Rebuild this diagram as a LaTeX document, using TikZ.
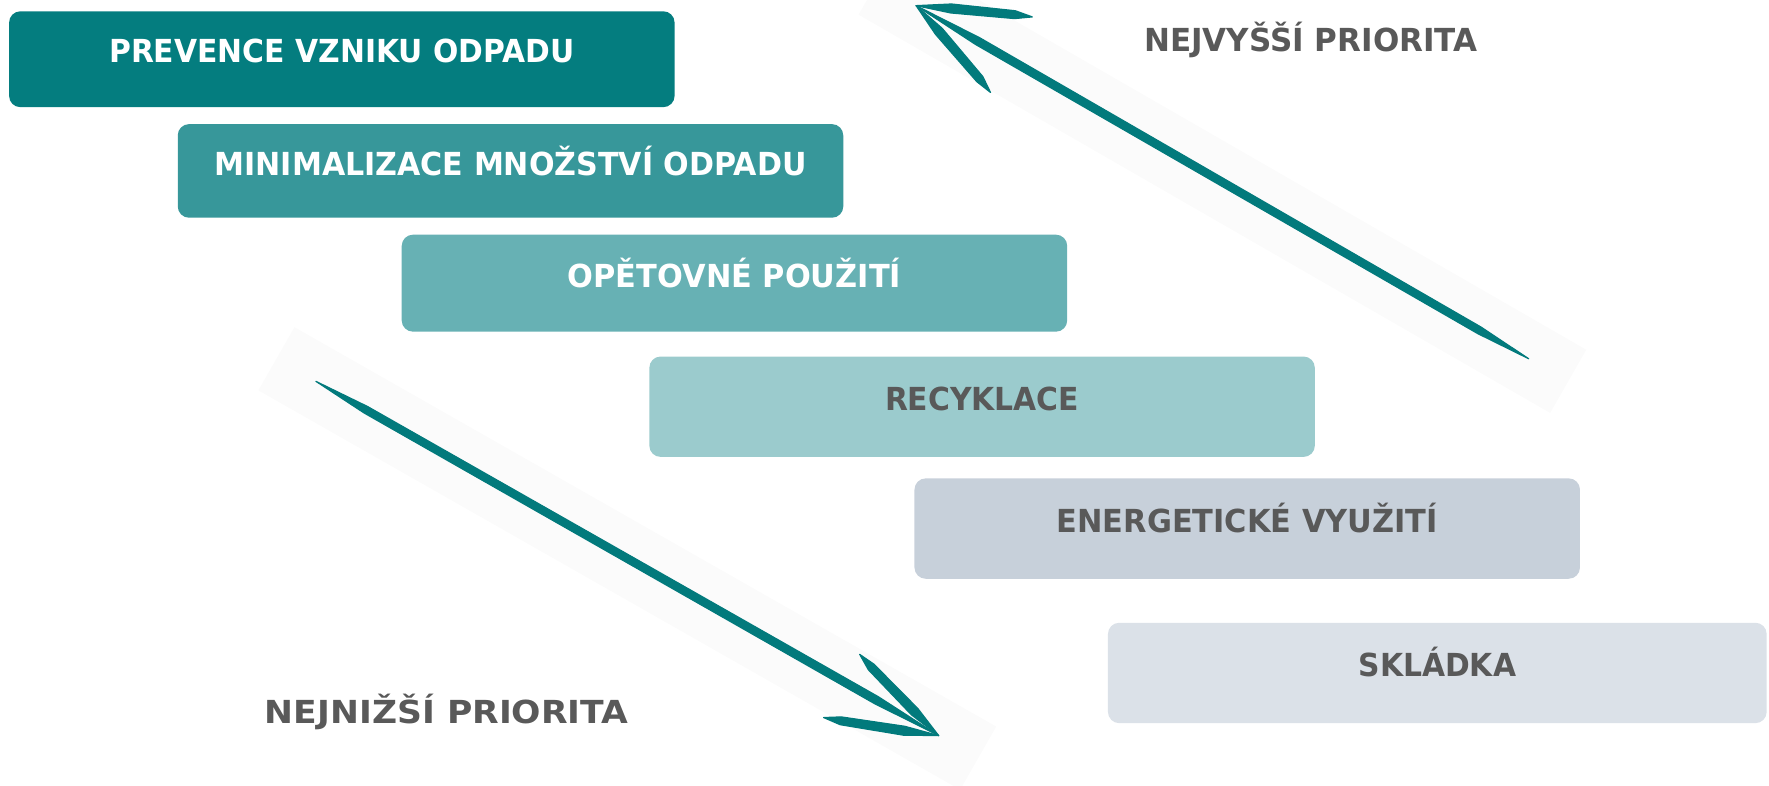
\documentclass[tikz,border=0pt]{standalone}
\usepackage{fontspec}
\setmainfont{DejaVu Sans}[FakeStretch=0.94]
\usetikzlibrary{calc}

\definecolor{lvlA}{HTML}{047D7F}
\definecolor{lvlB}{HTML}{37979A}
\definecolor{lvlC}{HTML}{67B1B4}
\definecolor{lvlD}{HTML}{9BCBCD}
\definecolor{lvlE}{HTML}{C7D0DA}
\definecolor{lvlF}{HTML}{DBE1E8}
\definecolor{arrowteal}{HTML}{027A7C}
\definecolor{txtgrey}{HTML}{595959}
\definecolor{bandgrey}{HTML}{FBFBFB}

\begin{document}
\begin{tikzpicture}[x=0.02cm, y=-0.02cm,
    stepbox/.style={rounded corners=0.2cm, draw=none, minimum width=11.8cm, inner sep=0pt},
    steptext/.style={anchor=base, inner sep=0pt, font=\fontsize{16}{19}\selectfont\bfseries},
    brush/.style={fill=arrowteal, draw=arrowteal, line width=0.6pt, line join=round},
    band/.style={fill=bandgrey, draw=none}]
                    \useasboundingbox (0,0) rectangle (1568,696);

                    \fill[band] (761,13) -- (793,-43) -- (1406,310) -- (1374,366) -- cycle;
                    \fill[band] (229,346) -- (261,290) -- (883,644) -- (851,700) -- cycle;

                    \node[stepbox, fill=lvlA, minimum height=1.70cm] (prev) at (303,52.5) {};
                    \node[stepbox, fill=lvlB, minimum height=1.66cm] (mini) at (452.5,151.5) {};
                    \node[stepbox, fill=lvlC, minimum height=1.72cm] (reuse) at (651,251) {};
                    \node[stepbox, fill=lvlD, minimum height=1.78cm] (recy) at (870.5,360.5) {};
                    \node[stepbox, fill=lvlE, minimum height=1.78cm] (energy) at (1105.5,468.5) {};
                    \node[stepbox, fill=lvlF, minimum height=1.78cm, minimum width=11.68cm] (landfill) at (1274,596.5) {};

                    \node[steptext, white] (prevT) at ([yshift=-0.05cm]prev.center) {PREVENCE VZNIKU ODPADU};
                    \node[steptext, white] (miniT) at ([yshift=-0.08cm]mini.center) {\scalebox{1.01}[1]{MINIMALIZACE MNOŽSTVÍ ODPADU}};
                    \node[steptext, white] (reuseT) at ([yshift=-0.08cm]reuse.center) {\scalebox{1.02}[1]{OPĚTOVNÉ POUŽITÍ}};
                    \node[steptext, txtgrey] (recyT) at ([yshift=-0.07cm]recy.center) {RECYKLACE};
                    \node[steptext, txtgrey] (energyT) at ([yshift=-0.07cm]energy.center) {\scalebox{1.02}[1]{ENERGETICKÉ VYUŽITÍ}};
                    \node[steptext, txtgrey] (landfillT) at ([yshift=-0.07cm]landfill.center) {SKLÁDKA};

                    \node[steptext, txtgrey] (high) at (1162,46) {\scalebox{1.04}[1]{NEJVYŠŠÍ PRIORITA}};
                    \node[steptext, txtgrey] (low) at (396,641) {\scalebox{1.16}[1]{NEJNIŽŠÍ PRIORITA}};

                    \coordinate (hiTail) at (1355,318);
                    \coordinate (hiTip) at (812,5);
                    \coordinate (hiBarbA) at (915,15);
                    \coordinate (hiBarbB) at (878,82);
                    \coordinate (loTail) at (280,338);
                    \coordinate (loTip) at (832,652);
                    \coordinate (loBarbA) at (762,580);
                    \coordinate (loBarbB) at (730,636);

                    \filldraw[brush] (hiTail) -- ($(hiTail)!0.08!(hiTip)!0.065cm!90:(hiTip)$) -- ($(hiTail)!0.9!(hiTip)!0.07cm!90:(hiTip)$) -- (hiTip) -- ($(hiTail)!0.9!(hiTip)!0.07cm!-90:(hiTip)$) -- ($(hiTail)!0.08!(hiTip)!0.065cm!-90:(hiTip)$) -- cycle;
                    \filldraw[brush] (hiTip) -- ($(hiTip)!0.3!(hiBarbA)!0.09cm!90:(hiBarbA)$) -- ($(hiTip)!0.85!(hiBarbA)!0.08cm!90:(hiBarbA)$) -- (hiBarbA) -- ($(hiTip)!0.85!(hiBarbA)!0.06cm!-90:(hiBarbA)$) -- ($(hiTip)!0.3!(hiBarbA)!0.07cm!-90:(hiBarbA)$) -- cycle;
                    \filldraw[brush] (hiTip) -- ($(hiTip)!0.3!(hiBarbB)!0.09cm!90:(hiBarbB)$) -- ($(hiTip)!0.85!(hiBarbB)!0.08cm!90:(hiBarbB)$) -- (hiBarbB) -- ($(hiTip)!0.85!(hiBarbB)!0.06cm!-90:(hiBarbB)$) -- ($(hiTip)!0.3!(hiBarbB)!0.07cm!-90:(hiBarbB)$) -- cycle;

                    \filldraw[brush] (loTail) -- ($(loTail)!0.08!(loTip)!0.065cm!90:(loTip)$) -- ($(loTail)!0.9!(loTip)!0.07cm!90:(loTip)$) -- (loTip) -- ($(loTail)!0.9!(loTip)!0.07cm!-90:(loTip)$) -- ($(loTail)!0.08!(loTip)!0.065cm!-90:(loTip)$) -- cycle;
                    \filldraw[brush] (loTip) -- ($(loTip)!0.3!(loBarbA)!0.09cm!90:(loBarbA)$) -- ($(loTip)!0.85!(loBarbA)!0.08cm!90:(loBarbA)$) -- (loBarbA) -- ($(loTip)!0.85!(loBarbA)!0.06cm!-90:(loBarbA)$) -- ($(loTip)!0.3!(loBarbA)!0.07cm!-90:(loBarbA)$) -- cycle;
                    \filldraw[brush] (loTip) -- ($(loTip)!0.3!(loBarbB)!0.09cm!90:(loBarbB)$) -- ($(loTip)!0.85!(loBarbB)!0.08cm!90:(loBarbB)$) -- (loBarbB) -- ($(loTip)!0.85!(loBarbB)!0.06cm!-90:(loBarbB)$) -- ($(loTip)!0.3!(loBarbB)!0.07cm!-90:(loBarbB)$) -- cycle;
                \end{tikzpicture}
\end{document}
